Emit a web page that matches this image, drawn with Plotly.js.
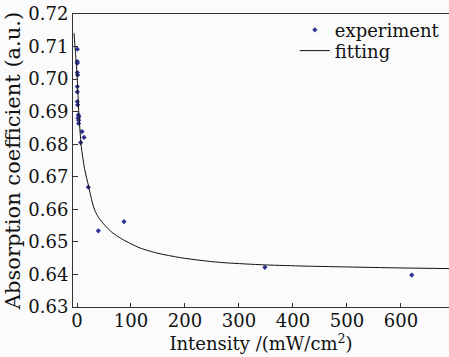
<!DOCTYPE html>
<html><head><meta charset="utf-8">
<script src="https://cdn.plot.ly/plotly-3.0.1.min.js"></script>
<style>html,body{margin:0;padding:0;background:#fbfbfb;}</style>
</head><body><div id="chart" style="width:449px;height:357px;"></div>
<script>
// Experiment data points (intensity, absorption coefficient)
const expX = [0.6, 0.6, 0.7, 0.6, 1.2, 0.6, 0.6, 0.6, 1.2, 2.5, 3.5, 2, 3, 3, 9.3, 13, 6.8, 21, 39.5, 87, 348, 620];
const expY = [0.7092, 0.7054, 0.7049, 0.7020, 0.7013, 0.6977, 0.6961, 0.6931, 0.6921, 0.6890, 0.6885, 0.6880, 0.6874, 0.6864, 0.6839, 0.6821, 0.6805, 0.6668, 0.6534, 0.6562, 0.6422, 0.6398];
// Fitting curve
const fitX = [-5.5, -3, 0.6, 3.1, 5.5, 8, 14, 21.6, 27, 32.7, 40, 51, 65, 82, 100, 117, 150, 190, 230, 265, 339, 413, 500, 598, 690];
const fitY = [0.7141, 0.7085, 0.6997, 0.6905, 0.6844, 0.6792, 0.6725, 0.6670, 0.6630, 0.6598, 0.6575, 0.6552, 0.6529, 0.6510, 0.6494, 0.6481, 0.6465, 0.6452, 0.6443, 0.6437, 0.6430, 0.6426, 0.6423, 0.6420, 0.6418];
const xTicks = [0, 100, 200, 300, 400, 500, 600];

const font = '"DejaVu Serif", "Liberation Serif", "Times New Roman", serif';
const data = [
  {x: expX, y: expY, mode: 'markers', type: 'scatter', name: 'experiment', legend: 'legend',
   marker: {symbol: 'diamond', size: 4, color: '#2e3192'}},
  {x: fitX, y: fitY, mode: 'lines', type: 'scatter', name: 'fitting', legend: 'legend2',
   line: {color: '#111', width: 1, shape: 'spline', smoothing: 0.8}}
];
const legBase = {xanchor: 'left', yanchor: 'middle', bgcolor: 'rgba(0,0,0,0)',
                 font: {family: font, size: 18}, itemwidth: 30, borderwidth: 0};
const layout = {
  width: 449, height: 357,
  margin: {l: 73, r: 0, t: 14, b: 50},
  paper_bgcolor: '#fbfbfb', plot_bgcolor: '#fbfbfb',
  font: {family: font, size: 18, color: '#111'},
  showlegend: true,
  legend: Object.assign({x: 0.59, y: 0.945}, legBase),
  legend2: Object.assign({x: 0.59, y: 0.874}, legBase),
  xaxis: {range: [-7.4, 689], tickvals: xTicks, ticktext: xTicks.map(String),
          ticks: 'inside', ticklen: 4, tickcolor: '#333', showline: true, linecolor: '#333',
          linewidth: 1, mirror: true, showgrid: false, zeroline: false, ticklabelstandoff: -3,
          title: {text: 'Intensity /(mW/cm<sup>2</sup>)', font: {family: font, size: 18}, standoff: 0},
          tickfont: {family: font, size: 18}},
  yaxis: {range: [0.63, 0.72], dtick: 0.01, tick0: 0.63, tickformat: '.2f',
          ticks: 'inside', ticklen: 5, tickcolor: '#333', showline: true, linecolor: '#333',
          linewidth: 1, showgrid: false, zeroline: false,
          title: {text: 'Absorption coefficient (a.u.)', font: {family: font, size: 21}, standoff: 1},
          tickfont: {family: font, size: 18}}
};
Plotly.newPlot('chart', data, layout, {displayModeBar: false, staticPlot: true});
</script></body></html>
